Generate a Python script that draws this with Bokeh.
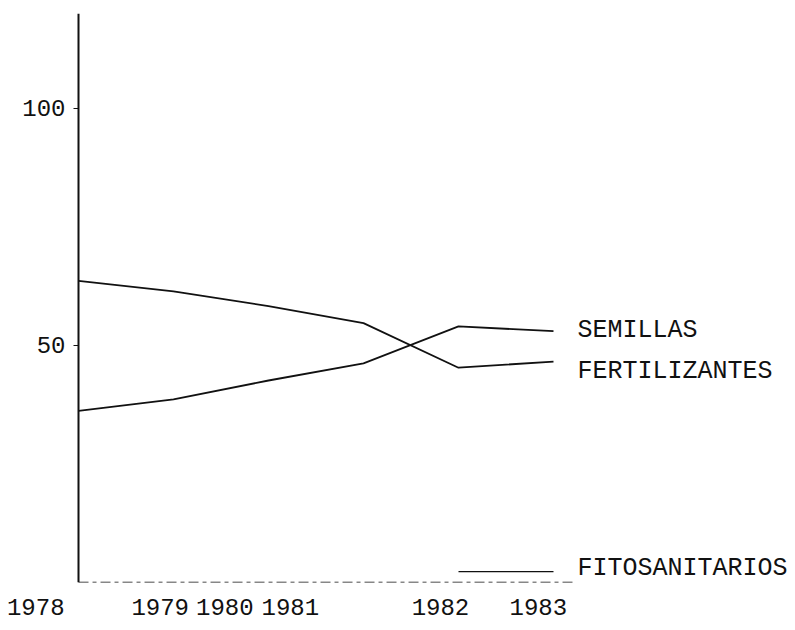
import math
from bokeh.plotting import figure
from bokeh.models import FixedTicker, ColumnDataSource
from bokeh.core.properties import value
from bokeh.embed import file_html
from bokeh.resources import INLINE

# ---- data ----
years = [1978, 1979, 1980, 1981, 1982, 1983]
fertilizantes = [63.6, 61.4, 58.3, 54.7, 45.3, 46.6]
semillas = [36.2, 38.6, 42.6, 46.2, 54.0, 53.0]
fitosanitarios = [math.nan, math.nan, math.nan, math.nan, 2.3, 2.3]
series_names = ["SEMILLAS", "FERTILIZANTES", "FITOSANITARIOS"]

y_ticks = [50, 100]
x_tick_labels = ["1978", "1979", "1980", "1981", "1982", "1983"]
# where the typed year labels sit along the axis in the original
x_tick_label_pos = [1977.55, 1978.86, 1979.54, 1980.23, 1981.81, 1982.84]

FONT = "Liberation Mono"
INK = "#111111"

p = figure(width=792, height=622, output_backend="svg", toolbar_location=None,
           x_range=(1977.305, 1985.516), y_range=(0, 120),
           min_border_left=12, min_border_right=0, min_border_top=13, min_border_bottom=40)
p.outline_line_color = None
p.grid.visible = False
p.background_fill_color = "white"

# y axis drawn at the first year
p.yaxis.fixed_location = years[0]
p.yaxis.ticker = FixedTicker(ticks=y_ticks)
p.yaxis.axis_line_color = INK
p.yaxis.axis_line_width = 2
p.yaxis.major_tick_out = 5
p.yaxis.major_tick_in = 0
p.yaxis.major_tick_line_color = INK
p.yaxis.minor_tick_line_color = None
p.yaxis.major_label_standoff = 8
p.yaxis.major_label_text_font = FONT
p.yaxis.major_label_text_font_size = "24px"
p.yaxis.major_label_text_color = INK

# x axis: only the typed year labels
p.xaxis.ticker = FixedTicker(ticks=x_tick_label_pos)
p.xaxis.major_label_overrides = {pos: lab for pos, lab in zip(x_tick_label_pos, x_tick_labels)}
p.xaxis.axis_line_color = None
p.xaxis.major_tick_line_color = None
p.xaxis.minor_tick_line_color = None
p.xaxis.major_label_standoff = 10
p.xaxis.major_label_text_font = FONT
p.xaxis.major_label_text_font_size = "24px"
p.xaxis.major_label_text_color = INK

# broken base line along zero
p.line([years[0], years[-1] + 0.2], [0, 0], line_color=INK, line_width=1.5,
       line_dash="10 4 4 4")

# series
p.line(years, fertilizantes, line_color=INK, line_width=1.8)
p.line(years, semillas, line_color=INK, line_width=1.8)
p.line(years, fitosanitarios, line_color=INK, line_width=1.3)

# end labels
src = ColumnDataSource(dict(
    x=[years[-1]] * 3,
    y=[semillas[-1], fertilizantes[-1], fitosanitarios[-1]],
    t=series_names,
    dy=[-1, 10, -3],
))
p.text(x="x", y="y", text="t", source=src, x_offset=24, y_offset="dy",
       text_font=value(FONT), text_font_size="25px", text_color=INK,
       text_baseline="middle", text_align="left")

open("out.html", "w").write(file_html(p, INLINE))
